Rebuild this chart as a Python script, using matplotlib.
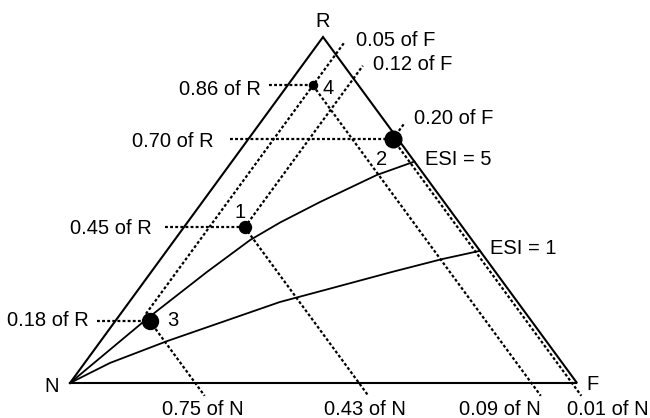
import matplotlib
matplotlib.use('Agg')
import matplotlib.pyplot as plt

plt.rcParams['font.family'] = ['Liberation Sans', 'DejaVu Sans']

# triangle corners in picture pixels (N bottom left, F bottom right, R top)
NXY = (70.0, 383.0)
FXY = (577.0, 383.0)
RXY = (323.0, 37.0)

# the four points, as fractions of R and F (N is the rest)
pt_names = ['1', '2', '3', '4']
pt_r = [0.45, 0.705, 0.18, 0.86]
pt_f = [0.12, 0.285, 0.067, 0.05]
pt_size = [8.6, 12.0, 11.5, 5.8]

# label texts
r_labels = ['0.45 of R', '0.70 of R', '0.18 of R', '0.86 of R']
f_labels = ['0.12 of F', '0.20 of F', None, '0.05 of F']
n_labels = ['0.43 of N', '0.01 of N', '0.75 of N', '0.09 of N']

# ESI curves as (r, f)
esi5_r = [0.0, 0.188, 0.321, 0.413, 0.464, 0.523, 0.601, 0.640]
esi5_f = [0.0, 0.060, 0.110, 0.149, 0.183, 0.232, 0.305, 0.360]
esi1_r = [0.0, 0.058, 0.121, 0.234, 0.269, 0.321, 0.358, 0.382]
esi1_f = [0.0, 0.050, 0.131, 0.297, 0.369, 0.475, 0.555, 0.618]


def tern(r, f):
    n = 1.0 - r - f
    x = n * NXY[0] + f * FXY[0] + r * RXY[0]
    y = n * NXY[1] + f * FXY[1] + r * RXY[1]
    return x, y


fig = plt.figure(figsize=(6.5, 4.18), dpi=100)
ax = fig.add_axes([0, 0, 1, 1])
ax.set_xlim(0, 650)
ax.set_ylim(418, 0)
ax.axis('off')

dot = dict(color='black', lw=1.6, linestyle=(0, (1.3, 1.0)))
ext = 0.037  # how far the guide lines go past the edge

for i in range(len(pt_r)):
    r, f = pt_r[i], pt_f[i]
    # constant R: horizontal to the left edge
    x0, y0 = tern(r, -ext)
    x1, y1 = tern(r, f)
    ax.plot([x0, x1], [y0, y1], **dot)
    # constant N: down to the bottom edge
    n = 1 - r - f
    x2, y2 = tern(-ext, 1 - n + ext)
    ax.plot([x1, x2], [y1, y2], **dot)
    # constant F: up to the right edge
    if f_labels[i] is not None:
        rs = pt_r[2] + 0.02 if pt_names[i] == '4' else r
        xa, ya = tern(rs, f)
        xb, yb = tern(1 - f + ext, f)
        ax.plot([xa, xb], [ya, yb], **dot)

# triangle
tx = [NXY[0], FXY[0], RXY[0], NXY[0]]
ty = [NXY[1], FXY[1], RXY[1], NXY[1]]
ax.plot(tx, ty, color='black', lw=1.5, solid_joinstyle='miter')

for cr, cf in [(esi5_r, esi5_f), (esi1_r, esi1_f)]:
    xy = [tern(a, b) for a, b in zip(cr, cf)]
    ax.plot([p[0] for p in xy], [p[1] for p in xy], color='black', lw=1.3)

for i in range(len(pt_r)):
    x, y = tern(pt_r[i], pt_f[i])
    ax.plot(x, y, 'o', color='black', ms=pt_size[i], zorder=5)

fs = 14.5
txt = dict(fontsize=fs, va='baseline')
ax.text(323, 26.7, 'R', ha='center', **txt)
ax.text(52, 391.5, 'N', ha='center', **txt)
ax.text(592, 389.5, 'F', ha='center', **txt)

# point numbers
ax.text(240, 218.5, '1', ha='center', **txt)
ax.text(381.7, 165, '2', ha='center', **txt)
ax.text(172.7, 326, '3', ha='center', **txt)
ax.text(328.3, 94, '4', ha='center', **txt)

# R labels
ax.text(151.7, 234, r_labels[0], ha='right', **txt)
ax.text(213.3, 146.7, r_labels[1], ha='right', **txt)
ax.text(88.3, 326, r_labels[2], ha='right', **txt)
ax.text(260.7, 95, r_labels[3], ha='right', **txt)

# F labels
ax.text(373.3, 70, f_labels[0], ha='left', **txt)
ax.text(414.3, 124, f_labels[1], ha='left', **txt)
ax.text(355.7, 46.5, f_labels[3], ha='left', **txt)

# N labels
ax.text(324.5, 415, n_labels[0], ha='left', **txt)
ax.text(567, 415, n_labels[1], ha='left', **txt)
ax.text(161.7, 415, n_labels[2], ha='left', **txt)
ax.text(459, 415, n_labels[3], ha='left', **txt)

ax.text(425, 165, 'ESI = 5', ha='left', **txt)
ax.text(490, 254, 'ESI = 1', ha='left', **txt)

fig.savefig('out.png', dpi=100)
